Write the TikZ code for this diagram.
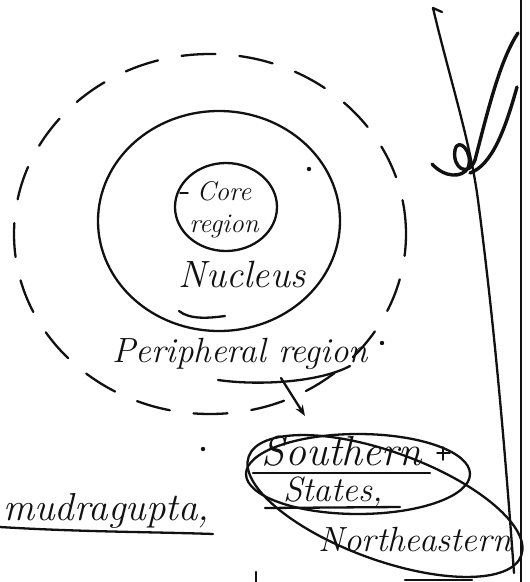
\documentclass[tikz,border=0pt]{standalone}
\usepackage{tikz}
\usetikzlibrary{positioning, arrows.meta, shapes.geometric}
\definecolor{penink}{HTML}{111111}

\begin{document}
\begin{tikzpicture}[x=1pt, y=-1pt, line cap=round, line join=round,
  pen/.style={draw=penink, line width=2.3pt},
  hand/.style={text=penink, font=\itshape\fontsize{#1}{\dimexpr#1pt*6/5\relax}\selectfont, inner sep=0pt, align=center},
  region/.style={pen, ellipse, inner sep=0pt}]
  \useasboundingbox (0,0) rectangle (530,582);

  % regions
  \node[region, dash pattern=on 34pt off 24pt, minimum width=392pt, minimum height=360pt] (periphery) at (210,234) {};
  \node[region, minimum width=242pt, minimum height=220pt] (nucleus) at (219,221) {};
  \node[region, minimum width=102pt, minimum height=88pt] (core) at (226,207) {};
  \draw[pen] (179,311) .. controls (190,320) and (210,318) .. (225,316);

  \node[hand=27] (coretext) at (224,210) {Core\\region};
  \draw[pen, line width=1.4pt] (180,193) -- (188,193);
  \node[hand=38] (nucleustext) at (242,274) {Nucleus};
  \node[hand=35] (periph) at (240,354) {Peripheral region};

  % states
  \node[region, minimum width=224pt, minimum height=80pt] (south) at (358,474) {};
  \node[region, rotate=-20, minimum width=290pt, minimum height=108pt] (outerloop) at (385,506) {};
  \node[hand=42] (southern) at (342,451) {Southern};
  \node[hand=35] (states) at (333,493) {States,};
  \node[hand=35] (northeast) at (415,540) {Northeastern};
  \draw[pen] (253,473) -- (430,473);
  \draw[pen] (265,508) -- (400,507);
  \draw[pen, line width=1.4pt] (437,453) -- (450,453) (443,447) -- (443,460);

  % arrow
  \draw[pen] (218,380) .. controls (260,386) and (320,382) .. (350,366);
  \coordinate (ulmid) at (281,378);
  \coordinate (hook) at (305,416);
  \draw[pen, -{Stealth[length=11pt]}] (ulmid) -- (hook);

  \node[hand=39, anchor=west] (ruler) at (3,511) {mudragupta,};
  \draw[pen] (0,527) .. controls (80,532) and (160,532) .. (213,534);

  % dots
  \foreach \pos in {(309,169), (382,343), (203,449)}{
    \fill[penink] \pos circle (2.2pt);
  }

  % margin and signature
  \draw[pen] (521,0) -- (521,582);
  \draw[pen] (442,12) -- (433,8) .. controls (450,80) and (470,140) .. (478,200) .. controls (495,330) and (505,450) .. (514,573);
  \draw[pen, line width=3.4pt] (432,164) .. controls (445,178) and (462,178) .. (468,168)
    .. controls (474,152) and (458,136) .. (455,150) .. controls (452,168) and (468,178) .. (475,160)
    .. controls (488,110) and (500,60) .. (518,33);
  \draw[pen, line width=3.4pt] (517,87) .. controls (505,130) and (492,165) .. (470,173);
  \draw[pen] (405,580) -- (472,580) (256,572) -- (256,582);
\end{tikzpicture}
\end{document}
